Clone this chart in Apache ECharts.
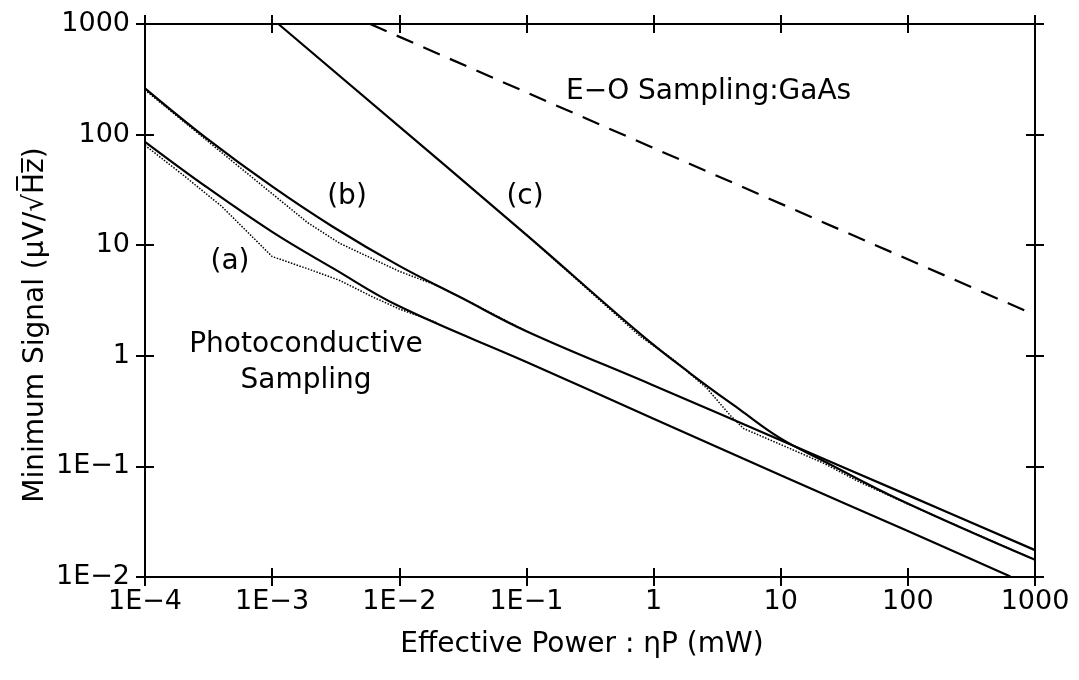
<!DOCTYPE html>
<html>
<head>
<meta charset="utf-8">
<script src="https://cdn.jsdelivr.net/npm/echarts@6/dist/echarts.min.js"></script>
<style>
html,body{margin:0;padding:0;background:#fff;}
#chart{width:1079px;height:680px;}
</style>
</head>
<body>
<div id="chart"></div>
<script>
// ---- tick labels ----
const X_TICKS = ['1E\u22124','1E\u22123','1E\u22122','1E\u22121','1','10','100','1000'];
const Y_TICKS = ['1E\u22122','1E\u22121','1','10','100','1000'];

// ---- series values: [effective power (mW), minimum signal (uV/sqrt(Hz))] ----
const curveA = [[1e-4,86],[3e-4,34],[1e-3,13.2],[3e-3,6.2],[1e-2,2.8],[0.1,0.88],[1,0.27],[10,0.083],[100,0.026],[640,0.0101]];
const curveAdot = [[1e-4,80],[2e-4,43],[4e-4,22.5],[1e-3,7.9],[2e-3,6.0],[3.4e-3,4.8],[6.2e-3,3.4],[1e-2,2.65],[2e-2,1.98]];
const curveB = [[1e-4,262],[3e-4,94],[1e-3,34],[3e-3,14.7],[1e-2,6.5],[3e-2,3.4],[0.1,1.67],[1,0.54],[10,0.172],[100,0.055],[1000,0.0175]];
const curveBdot = [[1e-4,253],[1.9e-3,16],[3.4e-3,10.4],[1e-2,5.8],[2e-2,4.3],[3e-2,3.4],[0.1,1.67]];
const curveC = [[1.12e-3,1000],[0.1,12.4],[0.785,1.58],[1.94,0.695],[4.8,0.324],[9.9,0.18],[21.7,0.112],[87,0.0497],[1000,0.0143]];
const curveCdot = [[0.1,12.4],[0.785,1.5],[1.44,0.92],[2.62,0.51],[4.0,0.29],[5.1,0.22],[8.8,0.168],[21.7,0.107],[40,0.074],[87,0.049],[1000,0.0143]];
const curveEO = [[5.9e-3,1000],[1000,2.34]];

const FONT = 'DejaVu Sans';
const FS = 28;
const TICK_FS = 27;
const ink = '#000';

function xAx(pos, inside, showLabel) {
  return {
    type: 'log', logBase: 10, min: 1e-4, max: 1000, interval: 1, splitNumber: 7,
    position: pos, offset: 0,
    axisLine: { show: true, onZero: false, lineStyle: { color: ink, width: 2 } },
    axisTick: { show: true, inside: inside, length: 9, lineStyle: { color: ink, width: 2 } },
    minorTick: { show: false }, splitLine: { show: false },
    axisLabel: {
      show: showLabel, color: ink, fontFamily: FONT, fontSize: TICK_FS, margin: 11,
      formatter: function (v) { return X_TICKS[Math.round(Math.log10(v)) + 4]; }
    }
  };
}
function yAx(pos, inside, showLabel) {
  return {
    type: 'log', logBase: 10, min: 0.01, max: 1000, interval: 1, splitNumber: 5,
    position: pos, offset: 0,
    axisLine: { show: true, onZero: false, lineStyle: { color: ink, width: 2 } },
    axisTick: { show: true, inside: inside, length: 9, lineStyle: { color: ink, width: 2 } },
    minorTick: { show: false }, splitLine: { show: false },
    axisLabel: {
      show: showLabel, color: ink, fontFamily: FONT, fontSize: TICK_FS, margin: 15,
      formatter: function (v) { return Y_TICKS[Math.round(Math.log10(v)) + 2]; }
    }
  };
}

function line(data, type, width, smooth) {
  return {
    type: 'line', data: data, xAxisIndex: 0, yAxisIndex: 0,
    showSymbol: false, symbol: 'none', smooth: smooth, silent: true,
    lineStyle: { color: ink, width: width, type: type },
    clip: true, z: 5
  };
}

function txt(text, x, y, align, rot) {
  return {
    type: 'text', x: x, y: y, silent: true, rotation: rot || 0,
    style: { text: text, font: FS + 'px "' + FONT + '"', fill: ink,
             textAlign: align || 'center', textVerticalAlign: 'middle',
             align: align || 'center', verticalAlign: 'middle' }
  };
}

const chart = echarts.init(document.getElementById('chart'), null, { renderer: 'canvas' });
chart.setOption({
  animation: false,
  backgroundColor: '#fff',
  grid: { left: 145, right: 44, top: 24, bottom: 103, containLabel: false },
  xAxis: [xAx('bottom', false, true), xAx('bottom', true, false), xAx('top', false, false), xAx('top', true, false)],
  yAxis: [yAx('left', false, true), yAx('left', true, false), yAx('right', false, false), yAx('right', true, false)],
  series: [
    line(curveA, 'solid', 2.2, 0.4),
    line(curveAdot, 'dotted', 1.5, false),
    line(curveB, 'solid', 2.2, 0.4),
    line(curveBdot, 'dotted', 1.5, false),
    line(curveC, 'solid', 2.2, 0.4),
    line(curveCdot, 'dotted', 1.5, false),
    line(curveEO, [18, 11], 2.2, false)
  ],
  graphic: [
    txt('(a)', 230, 262),
    txt('(b)', 347, 197),
    txt('(c)', 525, 197),
    txt('E\u2212O Sampling:GaAs', 566, 92, 'left'),
    txt('Photoconductive', 306, 345),
    txt('Sampling', 306, 381),
    txt('Effective Power : \u03B7P (mW)', 582, 645),
    txt('Minimum Signal (\u03BCV/\u221AH\u0305z\u0305)', 36, 325, 'center', Math.PI / 2)
  ]
});
</script>
</body>
</html>
